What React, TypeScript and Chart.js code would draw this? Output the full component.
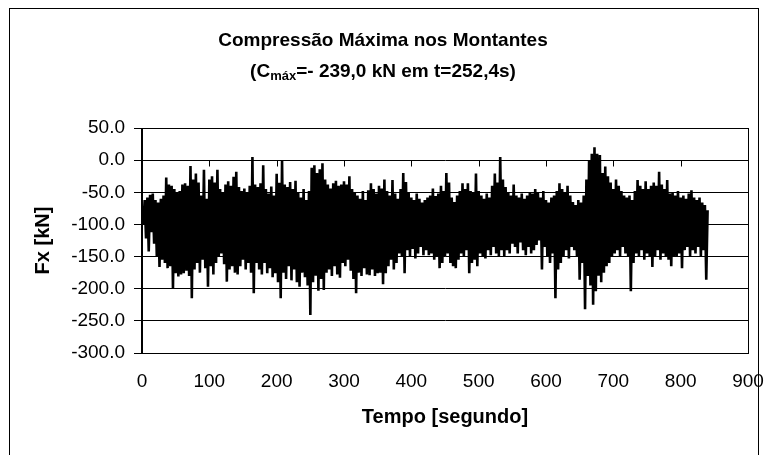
import React, { useEffect, useRef } from "react";
import { Chart, registerables } from "chart.js";

Chart.register(...registerables);

// Chart texts
const TITLE_LINE_1 = "Compressão Máxima nos Montantes";
const TITLE_LINE_2_A = "(C";
const TITLE_LINE_2_SUB = "máx";
const TITLE_LINE_2_B = "=- 239,0 kN em t=252,4s)";
const X_TITLE = "Tempo [segundo]";
const Y_TITLE = "Fx [kN]";

// Axis ticks
const X_TICKS = [0, 100, 200, 300, 400, 500, 600, 700, 800, 900];
const Y_TICKS = [50, 0, -50, -100, -150, -200, -250, -300];

// Sampling: upper (peak) readings at t = 0, 4, 8 ... 840 s,
// lower (trough) readings at t = 2, 6, 10 ... 838 s
const PEAK_TIME_STEP = 4;
const TROUGH_TIME_OFFSET = 2;

// Fx peaks [kN] (blocks of 20 s)
const fxPeaks = [
  -72, -62, -58, -54, -52,
  -62, -66, -60, -55, -27,
  -38, -40, -45, -50, -48,
  -38, -36, -40, -9, -30,
  -21, -35, -55, -15, -60,
  -30, -25, -35, -15, -45,
  -50, -38, -33, -40, -26,
  -18, -42, -48, -44, -50,
  -40, 5, -38, -42, -36,
  -8, -45, -52, -41, -55,
  -21, -35, -1, -38, -42,
  -34, -45, -32, -50, -58,
  -45, -62, -48, -12, -8,
  -20, -14, -5, -30, -38,
  -44, -36, -32, -40, -38,
  -33, -38, -25, -45, -50,
  -55, -60, -48, -62, -47,
  -36, -45, -52, -40, -44,
  -30, -48, -55, -31, -52,
  -60, -45, -20, -34, -50,
  -58, -62, -52, -60, -66,
  -62, -58, -55, -44, -56,
  -52, -40, -48, -20, -35,
  -58, -65, -55, -48, -36,
  -45, -36, -48, -50, -21,
  -48, -55, -60, -52, -58,
  -40, -21, -35, 5, -30,
  -42, -50, -55, -38, -55,
  -58, -52, -60, -55, -50,
  -52, -45, -50, -58, -48,
  -62, -66, -58, -55, -48,
  -36, -45, -50, -40, -55,
  -65, -70, -62, -66, -55,
  -30, 0, 10, 20, 10,
  8, -20, -10, -25, -35,
  -45, -30, -40, -48, -55,
  -58, -55, -62, -48, -31,
  -40, -45, -33, -45, -40,
  -35, -40, -18, -38, -45,
  -31, -52, -50, -55, -48,
  -58, -55, -60, -52, -47,
  -58, -62, -58, -66, -70,
  -78,
];

// Fx troughs [kN] (blocks of 20 s)
const fxTroughs = [
  -100, -122, -142, -112, -130,
  -150, -166, -155, -160, -168,
  -165, -200, -176, -181, -178,
  -176, -172, -180, -215, -170,
  -160, -175, -155, -168, -197,
  -165, -178, -160, -150, -145,
  -162, -189, -170, -165, -175,
  -178, -165, -155, -170, -160,
  -175, -207, -160, -170, -178,
  -160, -176, -168, -182, -176,
  -190, -215, -175, -185, -165,
  -187, -170, -190, -197, -175,
  -182, -195, -241, -190, -180,
  -203, -185, -202, -175, -170,
  -180, -165, -178, -183, -160,
  -165, -155, -172, -185, -207,
  -175, -180, -168, -178, -179,
  -170, -180, -176, -175, -193,
  -176, -165, -155, -170, -160,
  -145, -150, -176, -140, -150,
  -138, -153, -145, -135, -148,
  -140, -148, -145, -155, -150,
  -168, -160, -150, -145, -160,
  -165, -168, -155, -145, -150,
  -140, -176, -160, -155, -165,
  -145, -150, -153, -140, -148,
  -135, -145, -150, -140, -150,
  -140, -145, -130, -135, -145,
  -128, -140, -148, -135, -145,
  -140, -132, -125, -170, -135,
  -150, -160, -145, -215, -170,
  -160, -150, -140, -153, -135,
  -140, -150, -186, -160, -232,
  -180, -195, -225, -204, -180,
  -190, -175, -165, -160, -150,
  -145, -140, -150, -135, -145,
  -150, -204, -160, -145, -150,
  -140, -155, -145, -150, -166,
  -150, -140, -155, -145, -150,
  -155, -165, -150, -150, -145,
  -168, -140, -135, -150, -140,
  -145, -135, -150, -140, -186,
];

const FONT = '"Liberation Sans", Arial, sans-serif';
const CANVAS_W = 757;
const CANVAS_H = 447;

function buildSeries() {
  const pts: { x: number; y: number }[] = [];
  for (let i = 0; i < fxPeaks.length; i++) {
    pts.push({ x: i * PEAK_TIME_STEP, y: fxPeaks[i] });
    if (i < fxTroughs.length) {
      pts.push({ x: i * PEAK_TIME_STEP + TROUGH_TIME_OFFSET, y: fxTroughs[i] });
    }
  }
  return pts;
}

const decorPlugin = {
  id: "decor",
  beforeDraw(chart: any) {
    const { ctx } = chart;
    ctx.save();
    ctx.fillStyle = "#fff";
    ctx.fillRect(0, 0, CANVAS_W, CANVAS_H);
    ctx.strokeStyle = "#000";
    ctx.lineWidth = 1;
    ctx.strokeRect(1.5, 0.5, 749, CANVAS_H + 10);
    ctx.restore();
  },
  beforeDatasetsDraw(chart: any) {
    const { ctx, scales } = chart;
    const xs = scales.x;
    const ys = scales.y;
    const y0 = Math.round(ys.getPixelForValue(0)) + 0.5;
    ctx.save();
    ctx.strokeStyle = "#000";
    ctx.lineWidth = 1;
    ctx.beginPath();
    for (const v of X_TICKS) {
      if (v === 0 || v === 900) continue;
      const x = Math.round(xs.getPixelForValue(v)) + 0.5;
      ctx.moveTo(x, y0);
      ctx.lineTo(x, y0 + 6);
    }
    ctx.stroke();
    ctx.restore();
  },
  afterDraw(chart: any) {
    const { ctx, chartArea } = chart;
    ctx.save();
    ctx.strokeStyle = "#000";
    ctx.lineWidth = 1;
    const l = Math.round(chartArea.left) - 0.5;
    const t = Math.round(chartArea.top) + 0.5;
    const r = Math.round(chartArea.right) + 0.5;
    const b = Math.round(chartArea.bottom) + 0.5;
    ctx.strokeRect(l, t, r - l, b - t);

    // Title
    const cx = 375;
    ctx.fillStyle = "#000";
    ctx.textBaseline = "alphabetic";
    ctx.font = `bold 19px ${FONT}`;
    ctx.textAlign = "center";
    ctx.fillText(TITLE_LINE_1, cx, 38);

    ctx.textAlign = "left";
    const mainFont = `bold 19px ${FONT}`;
    const subFont = `bold 13px ${FONT}`;
    ctx.font = mainFont;
    const wa = ctx.measureText(TITLE_LINE_2_A).width;
    const wb = ctx.measureText(TITLE_LINE_2_B).width;
    ctx.font = subFont;
    const ws = ctx.measureText(TITLE_LINE_2_SUB).width;
    let x = cx - (wa + ws + wb) / 2;
    const base = 69;
    ctx.font = mainFont;
    ctx.fillText(TITLE_LINE_2_A, x, base);
    x += wa;
    ctx.font = subFont;
    ctx.fillText(TITLE_LINE_2_SUB, x, base + 3);
    x += ws;
    ctx.font = mainFont;
    ctx.fillText(TITLE_LINE_2_B, x, base);
    ctx.restore();
  },
};

export default function App() {
  const canvasRef = useRef<HTMLCanvasElement | null>(null);

  useEffect(() => {
    const canvas = canvasRef.current;
    if (!canvas) return;
    const chart = new Chart(canvas, {
      type: "line",
      data: {
        datasets: [
          {
            label: "Fx",
            data: buildSeries(),
            borderColor: "#000",
            backgroundColor: "#000",
            borderWidth: 2.6,
            pointRadius: 0,
            tension: 0,
            fill: false,
          },
        ],
      },
      options: {
        animation: false,
        responsive: false,
        devicePixelRatio: 1,
        layout: { padding: { top: 120, right: 17, bottom: 0, left: 0 } },
        plugins: {
          legend: { display: false },
          title: { display: false },
          tooltip: { enabled: false },
        },
        scales: {
          x: {
            type: "linear",
            min: 0,
            max: 900,
            afterBuildTicks: (s: any) => {
              s.ticks = X_TICKS.map((v) => ({ value: v }));
            },
            afterFit: (s: any) => {
              s.height = 102;
              s.paddingLeft = 0;
              s.paddingRight = 0;
            },
            grid: { display: false, drawTicks: false },
            border: { display: true, color: "#000" },
            ticks: {
              color: "#000",
              padding: 17,
              maxRotation: 0,
              autoSkip: false,
              font: { family: FONT, size: 19 },
              callback: (v: any) => String(v),
            },
            title: {
              display: true,
              text: X_TITLE,
              color: "#000",
              font: { family: FONT, size: 20, weight: "bold" },
              padding: { top: 0, bottom: 26 },
            },
          },
          y: {
            type: "linear",
            min: -300,
            max: 50,
            afterBuildTicks: (s: any) => {
              s.ticks = Y_TICKS.map((v) => ({ value: v }));
            },
            afterFit: (s: any) => {
              s.width = 134;
              s.paddingTop = 0;
              s.paddingBottom = 0;
            },
            grid: {
              color: "#000",
              lineWidth: 1,
              tickLength: 8,
              drawTicks: true,
            },
            border: { display: true, color: "#000" },
            ticks: {
              color: "#000",
              padding: 9,
              autoSkip: false,
              font: { family: FONT, size: 19 },
              callback: (v: any) => Number(v).toFixed(1),
            },
            title: {
              display: true,
              text: Y_TITLE,
              color: "#000",
              font: { family: FONT, size: 20, weight: "bold" },
              padding: { top: 23, bottom: 0 },
            },
          },
        },
      },
      plugins: [decorPlugin],
    });
    return () => chart.destroy();
  }, []);

  return (
    <>
      <style>{"html{overflow:hidden} body{width:757px}"}</style>
      <canvas
        ref={canvasRef}
        width={CANVAS_W}
        height={CANVAS_H}
        style={{ display: "block", width: CANVAS_W, height: CANVAS_H }}
      />
    </>
  );
}
